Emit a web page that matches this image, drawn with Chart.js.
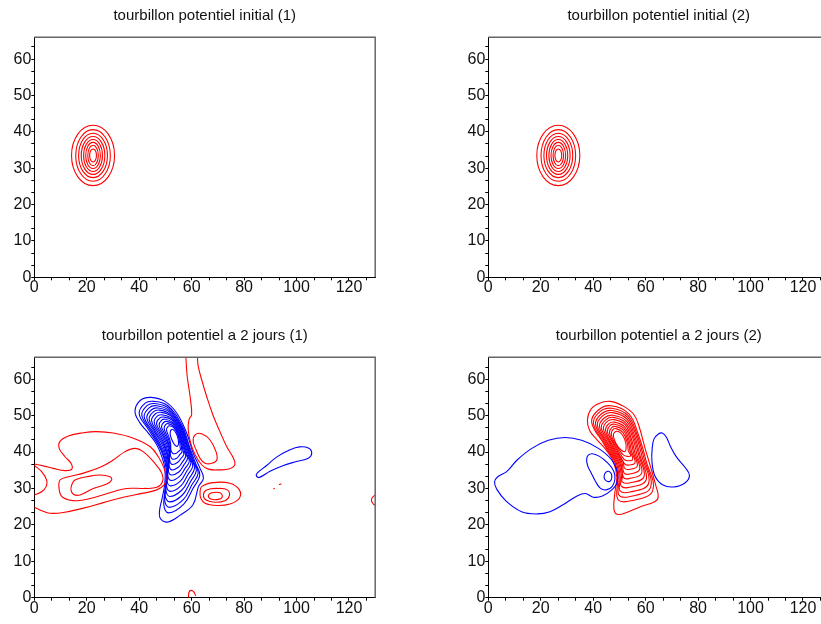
<!DOCTYPE html>
<html>
<head>
<meta charset="utf-8">
<script src="https://cdn.jsdelivr.net/npm/chart.js@4.4.1/dist/chart.umd.min.js"></script>
<style>
  html, body { margin: 0; padding: 0; background: #fff; overflow: hidden; width: 821px; height: 624px; }
  canvas { position: absolute; }
  #p1 { left: 0; top: 0; }
  #p2 { left: 410px; top: 0; }
  #p3 { left: 0; top: 320px; }
  #p4 { left: 410px; top: 320px; }
</style>
</head>
<body>
<canvas id="p1" width="410" height="310"></canvas>
<canvas id="p2" width="430" height="310"></canvas>
<canvas id="p3" width="410" height="310"></canvas>
<canvas id="p4" width="430" height="310"></canvas>
<script>
// --- axes ---
const xTicks = [0, 20, 40, 60, 80, 100, 120];
const yTicks = [0, 10, 20, 30, 40, 50, 60];
const xMax = 130;
const yMax = 66;

const titles = [
  'tourbillon potentiel initial (1)',
  'tourbillon potentiel initial (2)',
  'tourbillon potentiel a 2 jours (1)',
  'tourbillon potentiel a 2 jours (2)'
];

// --- contours, [x, y] points in grid units ---
const init1Red = [
  [[30.6,33.5],[28.2,39.37],[22.4,41.8],[16.6,39.37],[14.2,33.5],[16.6,27.63],[22.4,25.2],[28.2,27.63]],
  [[29.0,33.5],[27.07,38.52],[22.4,40.6],[17.73,38.52],[15.8,33.5],[17.73,28.48],[22.4,26.4],[27.07,28.48]],
  [[27.9,33.5],[26.29,37.81],[22.4,39.6],[18.51,37.81],[16.9,33.5],[18.51,29.19],[22.4,27.4],[26.29,29.19]],
  [[26.9,33.5],[25.58,37.18],[22.4,38.7],[19.22,37.18],[17.9,33.5],[19.22,29.82],[22.4,28.3],[25.58,29.82]],
  [[26.0,33.5],[24.95,36.61],[22.4,37.9],[19.85,36.61],[18.8,33.5],[19.85,30.39],[22.4,29.1],[24.95,30.39]],
  [[25.2,33.5],[24.38,36.05],[22.4,37.1],[20.42,36.05],[19.6,33.5],[20.42,30.95],[22.4,29.9],[24.38,30.95]],
  [[24.4,33.5],[23.81,35.48],[22.4,36.3],[20.99,35.48],[20.4,33.5],[20.99,31.52],[22.4,30.7],[23.81,31.52]],
  [[23.7,33.5],[23.32,34.77],[22.4,35.3],[21.48,34.77],[21.1,33.5],[21.48,32.23],[22.4,31.7],[23.32,32.23]]
];

const init2Red = [
  [[34.9,33.5],[32.5,39.37],[26.7,41.8],[20.9,39.37],[18.5,33.5],[20.9,27.63],[26.7,25.2],[32.5,27.63]],
  [[33.3,33.5],[31.37,38.52],[26.7,40.6],[22.03,38.52],[20.1,33.5],[22.03,28.48],[26.7,26.4],[31.37,28.48]],
  [[32.2,33.5],[30.59,37.81],[26.7,39.6],[22.81,37.81],[21.2,33.5],[22.81,29.19],[26.7,27.4],[30.59,29.19]],
  [[31.2,33.5],[29.88,37.18],[26.7,38.7],[23.52,37.18],[22.2,33.5],[23.52,29.82],[26.7,28.3],[29.88,29.82]],
  [[30.3,33.5],[29.25,36.61],[26.7,37.9],[24.15,36.61],[23.1,33.5],[24.15,30.39],[26.7,29.1],[29.25,30.39]],
  [[29.5,33.5],[28.68,36.05],[26.7,37.1],[24.72,36.05],[23.9,33.5],[24.72,30.95],[26.7,29.9],[28.68,30.95]],
  [[28.7,33.5],[28.11,35.48],[26.7,36.3],[25.29,35.48],[24.7,33.5],[25.29,31.52],[26.7,30.7],[28.11,31.52]],
  [[28.0,33.5],[27.62,34.77],[26.7,35.3],[25.78,34.77],[25.4,33.5],[25.78,32.23],[26.7,31.7],[27.62,32.23]]
];

// 2 days, run 1
const day2aRedOpen = [
  [[0,36.7],[3.4,36.2],[7.2,35.5],[11.7,34.9],[14.3,35.3],[14.0,36.9],[11.7,38.7],[9.5,41.0],[9.8,42.9],[13.0,44.4],[18.7,45.3],[23.8,45.6],[30.1,45.2],[37.8,43.8],[44.1,41.5],[47.3,38.7],[49.5,35.5],[50.2,32.8],[49.5,31.0],[46.7,29.6],[41.6,28.7],[33.9,27.6],[26.3,26.1],[18.7,24.6],[11.1,23.4],[6.0,23.2],[2.8,23.9],[0,24.8]],
  [[0,36.3],[2.8,34.6],[4.7,32.3],[4.5,30.5],[2.8,29.1],[0,28.2]],
  [[57.8,66],[58.3,60.8],[59.4,55.3],[60.0,50.3],[59.0,48.9],[58.7,46.1],[59.6,42.5],[61.3,39.3],[63.8,36.5],[66.4,35.3],[70.8,35.1],[74.5,35.4],[76.5,36.6],[75.8,38.5],[73.3,41.6],[70.8,45.6],[68.3,49.8],[65.7,55.3],[63.8,59.9],[62.5,63.6],[62.2,66]],
  [[58.8,0],[59.0,1.5],[59.8,2.0],[60.8,1.6],[61.6,0.5]],
  [[130,28.2],[128.9,27.5],[128.6,26.6],[129.3,25.7],[130,25.4]],
  [[91.2,29.8],[91.7,30.1]],
  [[93.3,31.1],[94.3,31.2]]
];
const day2aRedClosed = [
  [[9.8,32.3],[9.5,29.6],[10.8,27.6],[16.2,26.6],[23.8,27.7],[30.1,29.1],[35.2,30.0],[41.6,30.0],[46.7,30.3],[48.9,31.9],[48.6,34.2],[46.0,36.9],[41.5,40.1],[38.4,41.0],[34.6,40.1],[30.1,37.8],[25.1,35.8],[18.7,34.2],[13.0,33.2]],
  [[14.3,31.0],[15.5,32.3],[20.0,33.2],[25.1,33.7],[28.9,33.2],[29.5,32.3],[27.6,31.2],[22.5,30.0],[17.4,28.2],[14.9,28.4],[14.0,29.6]],
  [[61.3,44.7],[63.8,45.0],[67.0,43.3],[69.3,40.1],[69.6,37.8],[67.7,36.9],[65.1,36.9],[63.2,38.3],[61.7,40.6],[60.6,42.9]],
  [[63.2,28.7],[63.8,30.5],[68.3,31.6],[74.6,31.4],[78.2,29.6],[78.2,27.3],[74.6,25.7],[69.6,25.3],[65.1,25.9],[63.5,27.3]],
  [[64.5,28.2],[65.7,29.6],[70.2,30.0],[73.6,29.6],[74.4,28.0],[72.7,26.6],[68.9,26.2],[65.5,26.8]],
  [[66.4,28.0],[67.7,28.8],[70.8,28.8],[71.7,27.7],[70.2,27.0],[67.3,27.1]]
];
const day2aBlue = [
  [[84.8,33.3],[85.0,34.2],[88.6,36.3],[92.4,38.6],[97.5,40.6],[101.1,41.4],[104.5,41.1],[105.8,39.7],[104.5,38.3],[100.0,37.4],[95.0,36.3],[89.9,34.7],[86.1,33.1]],
  [[44.5,55.0],[49.8,53.9],[54.3,50.7],[58.1,45.2],[60.6,39.7],[63.2,35.5],[64.5,32.8],[62.6,30.5],[60.5,25.5],[55.5,22.6],[51.0,20.8],[48.3,21.5],[47.7,23.5],[48.8,27.5],[49.8,31.5],[49.8,35.5],[48.5,39.0],[46.7,42.0],[43.5,45.2],[40.3,48.0],[38.4,51.2],[40.5,54.2]],
  [[45.5,53.9],[50.9,52.7],[56.3,47.4],[59.2,41.4],[61.6,36.7],[63.1,33.6],[60.6,30.1],[57.0,25.7],[51.2,23.3],[49.4,25.5],[50.5,33.8],[48.5,40.2],[43.6,46.1],[40.0,50.5],[42.3,53.4]],
  [[46.0,53.3],[51.1,52.1],[56.1,47.1],[58.9,41.5],[61.0,37.1],[62.5,34.2],[60.1,31.0],[56.8,26.9],[51.4,24.8],[49.7,26.9],[50.7,34.6],[48.7,40.5],[44.3,46.0],[41.0,50.1],[43.1,52.8]],
  [[46.6,52.7],[51.3,51.5],[56.0,46.9],[58.5,41.6],[60.5,37.5],[61.8,34.9],[59.6,31.9],[56.5,28.2],[51.5,26.3],[49.9,28.2],[50.8,35.3],[49.0,40.8],[44.9,45.9],[41.9,49.7],[43.9,52.2]],
  [[47.1,52.1],[51.5,51.0],[55.9,46.6],[58.2,41.7],[60.0,37.9],[61.1,35.5],[59.1,32.8],[56.2,29.5],[51.7,27.8],[50.2,29.6],[50.9,36.1],[49.3,41.2],[45.6,45.8],[42.9,49.4],[44.7,51.6]],
  [[47.7,51.5],[51.7,50.4],[55.7,46.4],[57.9,41.8],[59.4,38.4],[60.4,36.1],[58.5,33.7],[55.9,30.7],[51.8,29.2],[50.4,31.0],[51.1,36.9],[49.6,41.5],[46.2,45.7],[43.8,49.0],[45.4,51.0]],
  [[48.2,50.9],[52.0,49.9],[55.6,46.1],[57.5,41.9],[58.9,38.8],[59.7,36.8],[58.0,34.6],[55.7,32.0],[51.9,30.7],[50.6,32.3],[51.2,37.6],[49.8,41.8],[46.9,45.6],[44.7,48.6],[46.2,50.5]],
  [[48.8,50.2],[52.2,49.3],[55.5,45.9],[57.2,41.9],[58.3,39.2],[59.1,37.4],[57.5,35.5],[55.4,33.3],[52.1,32.2],[50.9,33.7],[51.3,38.4],[50.1,42.1],[47.5,45.6],[45.7,48.2],[47.0,49.9]],
  [[49.3,49.6],[52.4,48.8],[55.3,45.6],[56.9,42.0],[57.8,39.6],[58.4,38.1],[57.0,36.4],[55.1,34.5],[52.2,33.7],[51.1,35.0],[51.5,39.1],[50.4,42.5],[48.2,45.5],[46.6,47.8],[47.8,49.3]],
  [[49.9,49.0],[52.6,48.2],[55.2,45.4],[56.5,42.1],[57.3,40.0],[57.7,38.7],[56.5,37.3],[54.9,35.8],[52.4,35.1],[51.4,36.4],[51.6,39.9],[50.7,42.8],[48.8,45.4],[47.6,47.4],[48.5,48.7]],
  [[50.4,48.4],[52.8,47.7],[55.1,45.1],[56.2,42.2],[56.7,40.4],[57.0,39.3],[56.0,38.3],[54.6,37.1],[52.5,36.6],[51.6,37.8],[51.7,40.7],[50.9,43.1],[49.5,45.3],[48.5,47.0],[49.3,48.1]],
  [[51.0,47.8],[53.0,47.1],[54.9,44.8],[55.9,42.3],[56.2,40.8],[56.3,40.0],[55.4,39.2],[54.3,38.3],[52.6,38.1],[51.9,39.1],[51.9,41.4],[51.2,43.5],[50.1,45.2],[49.5,46.6],[50.1,47.5]],
  [[51.5,47.2],[53.3,46.6],[54.8,44.6],[55.5,42.4],[55.6,41.3],[55.7,40.6],[54.9,40.1],[54.0,39.6],[52.8,39.6],[52.1,40.5],[52.0,42.2],[51.5,43.8],[50.8,45.1],[50.4,46.2],[50.9,46.9]],
  [[52.4,46.2],[53.6,45.7],[54.6,44.2],[55.0,42.5],[54.6,41.6],[53.6,41.9],[52.5,43.3],[51.8,45.0]]
];

// 2 days, run 2
const day2bBlue = [
  [[2.4,31.8],[3.6,33.2],[7.0,34.6],[11.0,37.8],[16.6,41.0],[22.9,43.2],[29.3,44.0],[35.6,43.2],[42.0,41.0],[47.1,37.8],[49.3,34.2],[49.0,31.4],[47.1,29.6],[43.5,27.9],[40.0,27.6],[37.0,28.6],[33.5,27.8],[28.5,25.5],[23.5,23.6],[18.8,23.0],[12.7,23.6],[6.8,26.5],[3.2,29.8]],
  [[37.6,38.5],[39.4,39.5],[42.4,38.8],[45.5,37.0],[47.8,34.8],[48.3,32.6],[47.2,30.5],[45.0,29.6],[42.8,30.0],[40.9,31.9],[39.3,34.2],[37.9,36.2]],
  [[45.9,34.7],[46.9,34.0],[47.1,33.0],[46.6,32.1],[45.5,31.9],[44.4,32.5],[44.2,33.5],[44.8,34.4]],
  [[65.0,45.0],[63.2,43.6],[62.5,41.0],[62.4,37.5],[63.5,33.5],[66.5,31.0],[70.5,30.4],[75.0,31.5],[76.7,33.6],[75.0,35.8],[71.8,38.6],[69.5,41.5],[67.8,44.2],[66.3,45.2]]
];
const day2bRed = [
  [[42.4,53.4],[46.4,53.9],[51.5,52.6],[55.5,50.3],[57.5,47.0],[59.6,41.5],[61.8,36.1],[63.8,31.0],[64.8,27.8],[63.6,26.4],[58.0,25.0],[52.8,23.4],[49.2,22.9],[47.9,24.4],[48.3,29.0],[49.0,33.0],[47.8,37.2],[45.0,40.5],[41.4,43.4],[38.6,46.0],[37.8,48.8],[39.2,51.8]],
  [[46.8,52.7],[53.6,50.5],[57.3,44.6],[60.0,38.0],[62.7,29.4],[54.4,26.6],[49.4,27.0],[49.4,33.0],[48.3,37.2],[45.5,40.5],[44.2,42.1],[39.4,48.2],[42.1,51.6]],
  [[47.0,52.0],[53.3,50.0],[56.9,44.4],[59.4,38.2],[61.9,30.3],[54.2,27.8],[49.8,28.2],[49.9,33.0],[48.7,37.2],[45.9,40.5],[44.5,42.2],[40.1,47.9],[42.6,51.1]],
  [[47.2,51.4],[53.1,49.5],[56.5,44.2],[58.7,38.5],[61.1,31.3],[54.0,29.0],[50.2,29.4],[50.35,33.0],[49.15,37.2],[46.35,40.5],[44.8,42.4],[40.9,47.6],[43.2,50.5]],
  [[47.4,50.8],[52.9,49.0],[56.0,44.0],[58.0,38.7],[60.2,32.3],[53.9,30.3],[50.6,30.7],[50.8,33.3],[49.6,37.2],[46.8,40.5],[45.2,42.5],[41.6,47.3],[43.7,50.0]],
  [[47.5,50.1],[52.7,48.5],[55.6,43.8],[57.4,39.0],[59.4,33.2],[53.8,31.5],[51.0,31.9],[51.25,33.5],[50.05,37.2],[47.25,40.5],[45.5,42.6],[42.4,47.0],[44.3,49.4]],
  [[47.7,49.5],[52.4,48.0],[55.2,43.6],[56.7,39.2],[58.5,34.2],[53.7,32.7],[51.5,33.1],[50.5,37.2],[47.7,40.5],[45.9,42.8],[43.1,46.7],[44.9,48.9]],
  [[47.9,48.9],[52.2,47.5],[54.7,43.3],[56.0,39.5],[57.7,35.2],[53.6,33.9],[51.7,34.3],[50.95,37.2],[48.15,40.5],[46.2,42.9],[43.9,46.4],[45.4,48.4]],
  [[48.1,48.2],[52.0,46.9],[54.3,43.1],[55.4,39.7],[56.8,36.1],[53.5,35.2],[51.9,35.6],[51.4,37.4],[48.6,40.5],[46.5,43.0],[44.7,46.0],[46.0,47.8]],
  [[48.3,47.6],[51.8,46.4],[53.8,42.9],[54.7,40.0],[56.0,37.1],[53.4,36.4],[51.9,36.8],[49.05,40.5],[46.9,43.2],[45.4,45.7],[46.5,47.3]],
  [[48.5,47.0],[51.6,45.9],[53.4,42.7],[54.1,40.2],[55.1,38.0],[53.3,37.6],[51.8,38.0],[49.5,40.5],[47.2,43.3],[46.2,45.4],[47.1,46.7]],
  [[48.7,46.4],[51.3,45.4],[53.0,42.5],[53.4,40.4],[54.3,39.0],[53.0,38.8],[51.5,39.2],[49.95,40.6],[47.5,43.5],[46.9,45.1],[47.6,46.2]],
  [[48.3,45.5],[49.6,45.6],[51.2,44.6],[52.4,42.6],[52.5,40.7],[52.0,40.1],[50.9,40.4],[49.3,41.6],[48.1,43.3],[47.7,44.7]]
];

const RED = 'rgb(255,0,0)';
const BLUE = 'rgb(0,0,255)';
const FONT = "'Liberation Sans', Arial, Helvetica, sans-serif";

// closed contours are drawn as smooth loops
const loopPlugin = {
  id: 'loops',
  beforeDatasetsDraw(chart) {
    chart.data.datasets.forEach((ds, i) => {
      const line = chart.getDatasetMeta(i).dataset;
      if (!line || !ds.closed) return;
      line._loop = true;
      line._fullLoop = true;
      line._segments = undefined;
      line._pointsUpdated = false;
    });
  }
};

// box: grey top and right edges
const framePlugin = {
  id: 'frame',
  afterDraw(chart) {
    const { ctx, chartArea: a } = chart;
    ctx.save();
    ctx.strokeStyle = '#666';
    ctx.lineWidth = 1.5;
    ctx.beginPath();
    ctx.moveTo(a.left, a.top);
    ctx.lineTo(a.right, a.top);
    ctx.lineTo(a.right, a.bottom);
    ctx.stroke();
    ctx.restore();
  }
};

function contourSets(list, color, closed, tension) {
  return list.map(c => ({
    data: c.map(([x, y]) => ({ x, y })),
    borderColor: color,
    borderWidth: 1.1,
    pointRadius: 0,
    fill: false,
    tension: tension,
    closed: closed
  }));
}

function labelFor(list, v) {
  const t = list.find(t => Math.abs(t - v) < 0.01);
  return t === undefined ? '' : String(t);
}

function makePanel(id, title, datasets, yWidth, bottom) {
  const canvas = document.getElementById(id);
  const right = canvas.width - (yWidth + 340.9);
  return new Chart(canvas, {
    type: 'line',
    data: { datasets },
    options: {
      responsive: false,
      animation: false,
      events: [],
      layout: { padding: { left: 0, top: 0, right: right, bottom: bottom } },
      plugins: {
        legend: { display: false },
        tooltip: { enabled: false },
        title: {
          display: true,
          text: title,
          fullSize: false,
          color: '#111',
          font: { family: FONT, size: 15, weight: 'normal' },
          padding: { top: 7, bottom: 12.3 }
        }
      },
      scales: {
        x: {
          type: 'linear', min: 0, max: xMax,
          border: { color: '#000', width: 1 },
          grid: { drawOnChartArea: false, tickLength: 3, tickColor: '#000' },
          ticks: {
            stepSize: 20 / 3, includeBounds: false, autoSkip: false, maxRotation: 0,
            padding: -2, color: '#111', font: { family: FONT, size: 16 },
            callback: v => labelFor(xTicks, v)
          },
          afterFit: s => { s.height = 30; }
        },
        y: {
          type: 'linear', min: 0, max: yMax,
          border: { color: '#000', width: 1 },
          grid: { drawOnChartArea: false, tickLength: 3, tickColor: '#000' },
          ticks: {
            stepSize: 10 / 3, includeBounds: false, autoSkip: false,
            padding: 0, color: '#111', font: { family: FONT, size: 16 },
            callback: v => labelFor(yTicks, v)
          },
          afterFit: s => { s.width = yWidth; }
        }
      }
    },
    plugins: [loopPlugin, framePlugin]
  });
}

makePanel('p1', titles[0], contourSets(init1Red, RED, true, 0.375), 34.3, 2.7);
makePanel('p2', titles[1], contourSets(init2Red, RED, true, 0.375), 78.3, 2.7);
makePanel('p3', titles[2], [
  ...contourSets(day2aRedOpen, RED, false, 0.4),
  ...contourSets(day2aRedClosed, RED, true, 0.4),
  ...contourSets(day2aBlue, BLUE, true, 0.4)
], 34.3, 2.3);
makePanel('p4', titles[3], [
  ...contourSets(day2bBlue, BLUE, true, 0.4),
  ...contourSets(day2bRed, RED, true, 0.4)
], 78.3, 2.3);
</script>
</body>
</html>
